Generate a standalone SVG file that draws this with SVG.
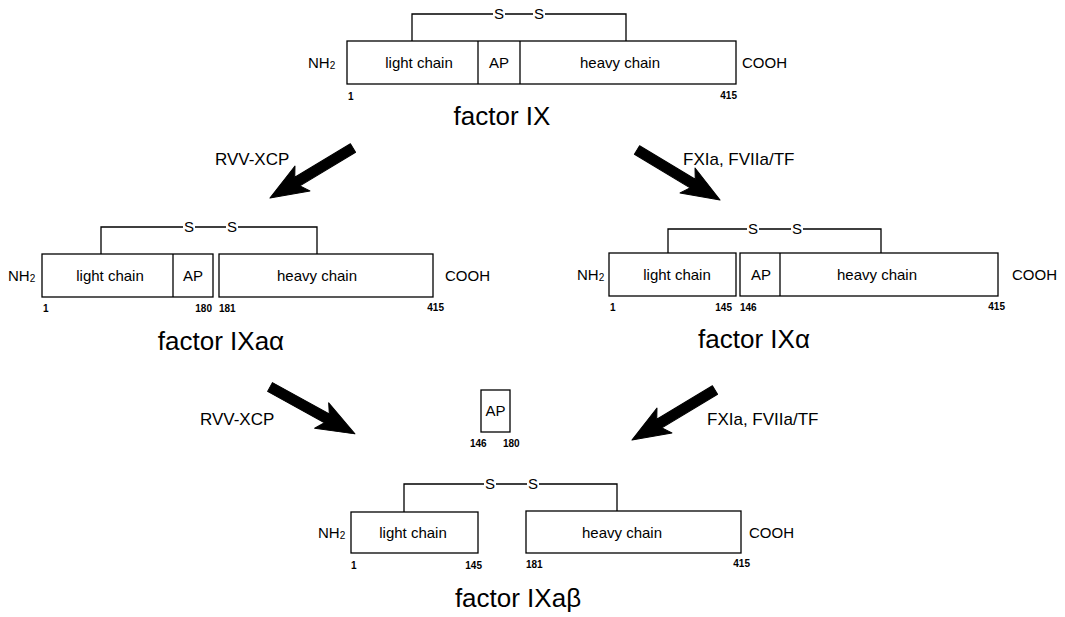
<svg xmlns="http://www.w3.org/2000/svg" xmlns:xlink="http://www.w3.org/1999/xlink" width="1065" height="617" viewBox="0 0 1065 617">
  <style>
    text { font-family: "Liberation Sans", Arial, Helvetica, sans-serif; fill: #000; }
    .box { fill: #fff; stroke: #000; stroke-width: 1.3; }
    .ln { fill: none; stroke: #000; stroke-width: 1.3; }
    .lab { font-size: 15px; text-anchor: middle; }
    .end { font-size: 15px; }
    .sub { font-size: 10px; }
    .num { font-size: 10px; font-weight: bold; }
    .ss { font-size: 15px; text-anchor: middle; }
    .title { font-size: 26px; text-anchor: middle; }
    .enz { font-size: 17px; }
    .arrow { fill: #000; stroke: #000; stroke-width: 1; stroke-linejoin: round; }
  </style>
  <defs>
    <!-- thick cleavage arrow, tail at origin, tip at x=97 -->
    <path id="arrow" d="M0,-5 L65,-5 L59,-14.5 L97,0 L59,14.5 L65,5 L0,5 Z"/>
  </defs>
  <rect width="1065" height="617" fill="#fff"/>

  <!-- factor IX (zymogen) -->
  <g id="factor-IX">
    <path class="ln" d="M412,41 V14 H493 M505,14 H533 M545,14 H626 V41"/>
    <text class="ss" x="499" y="19">S</text>
    <text class="ss" x="539" y="19">S</text>
    <rect class="box" x="347" y="41" width="389" height="43"/>
    <line class="ln" x1="478" y1="41" x2="478" y2="84"/>
    <line class="ln" x1="520" y1="41" x2="520" y2="84"/>
    <text class="lab" x="419" y="68">light chain</text>
    <text class="lab" x="499" y="68">AP</text>
    <text class="lab" x="620" y="68">heavy chain</text>
    <text class="end" x="308" y="68">NH<tspan class="sub" dy="1">2</tspan></text>
    <text class="end" x="742" y="68">COOH</text>
    <text class="num" x="348" y="100">1</text>
    <text class="num" x="737" y="99" text-anchor="end">415</text>
    <text class="title" x="502" y="125">factor IX</text>
  </g>

  <!-- factor IXaα -->
  <g id="factor-IXa-alpha">
    <path class="ln" d="M101,254 V227 H183 M195,227 H226 M238,227 H317 V254"/>
    <text class="ss" x="189" y="232">S</text>
    <text class="ss" x="232" y="232">S</text>
    <rect class="box" x="42" y="254" width="171" height="43"/>
    <line class="ln" x1="173" y1="254" x2="173" y2="297"/>
    <rect class="box" x="219" y="254" width="214" height="43"/>
    <text class="lab" x="110" y="281">light chain</text>
    <text class="lab" x="193" y="281">AP</text>
    <text class="lab" x="317" y="281">heavy chain</text>
    <text class="end" x="8" y="281">NH<tspan class="sub" dy="1">2</tspan></text>
    <text class="end" x="445" y="281">COOH</text>
    <text class="num" x="43" y="312">1</text>
    <text class="num" x="212" y="312" text-anchor="end">180</text>
    <text class="num" x="219" y="312">181</text>
    <text class="num" x="444" y="311" text-anchor="end">415</text>
    <text class="title" x="221" y="350">factor IXaα</text>
  </g>

  <!-- factor IXα -->
  <g id="factor-IX-alpha">
    <path class="ln" d="M668,253 V229 H747 M759,229 H791 M803,229 H881 V253"/>
    <text class="ss" x="753" y="234">S</text>
    <text class="ss" x="797" y="234">S</text>
    <rect class="box" x="609" y="253" width="127" height="43"/>
    <rect class="box" x="740" y="253" width="258" height="43"/>
    <line class="ln" x1="780" y1="253" x2="780" y2="296"/>
    <text class="lab" x="677" y="280">light chain</text>
    <text class="lab" x="761" y="280">AP</text>
    <text class="lab" x="877" y="280">heavy chain</text>
    <text class="end" x="577" y="280">NH<tspan class="sub" dy="1">2</tspan></text>
    <text class="end" x="1012" y="280">COOH</text>
    <text class="num" x="610" y="311">1</text>
    <text class="num" x="732" y="311" text-anchor="end">145</text>
    <text class="num" x="740" y="311">146</text>
    <text class="num" x="1005" y="310" text-anchor="end">415</text>
    <text class="title" x="754" y="348">factor IXα</text>
  </g>

  <!-- released activation peptide -->
  <g id="activation-peptide">
    <rect class="box" x="481" y="390" width="29" height="42"/>
    <text class="lab" x="495.5" y="416">AP</text>
    <text class="num" x="470" y="447">146</text>
    <text class="num" x="503" y="447">180</text>
  </g>

  <!-- factor IXaβ -->
  <g id="factor-IXa-beta">
    <path class="ln" d="M404,512 V484 H484 M496,484 H527 M539,484 H617 V511"/>
    <text class="ss" x="490" y="489">S</text>
    <text class="ss" x="533" y="489">S</text>
    <rect class="box" x="351" y="512" width="127" height="41"/>
    <rect class="box" x="526" y="511" width="215" height="42"/>
    <text class="lab" x="413" y="538">light chain</text>
    <text class="lab" x="622" y="538">heavy chain</text>
    <text class="end" x="318" y="538">NH<tspan class="sub" dy="1">2</tspan></text>
    <text class="end" x="749" y="538">COOH</text>
    <text class="num" x="351" y="569">1</text>
    <text class="num" x="482" y="569" text-anchor="end">145</text>
    <text class="num" x="526" y="568">181</text>
    <text class="num" x="750" y="567" text-anchor="end">415</text>
    <text class="title" x="518" y="607">factor IXaβ</text>
  </g>

  <!-- cleavage arrows -->
  <g id="connectors">
    <use xlink:href="#arrow" class="arrow" transform="translate(353,148) rotate(148.9)"/>
    <use xlink:href="#arrow" class="arrow" transform="translate(637,150) rotate(31.1)"/>
    <use xlink:href="#arrow" class="arrow" transform="translate(270,387) rotate(28.9)"/>
    <use xlink:href="#arrow" class="arrow" transform="translate(715,390) rotate(148.9)"/>
    <text class="enz" x="215" y="165">RVV-XCP</text>
    <text class="enz" x="683" y="165">FXIa, FVIIa/TF</text>
    <text class="enz" x="200" y="425">RVV-XCP</text>
    <text class="enz" x="707" y="425">FXIa, FVIIa/TF</text>
  </g>
</svg>
